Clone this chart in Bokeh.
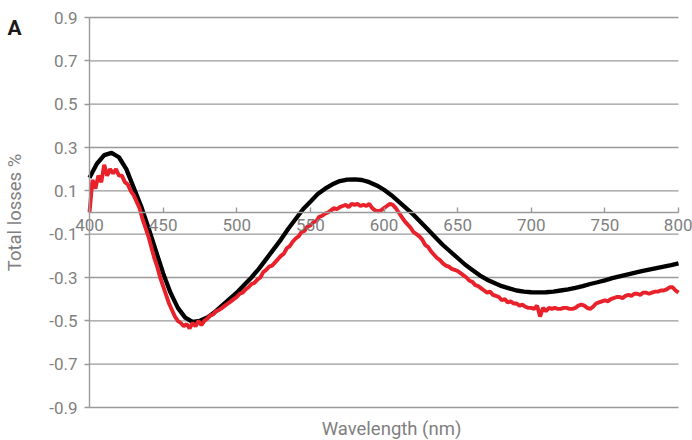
from bokeh.plotting import figure
from bokeh.models import FixedTicker, PrintfTickFormatter, Label, Range1d
from bokeh.embed import file_html
from bokeh.resources import INLINE

# ---- data ----
black_wl = list(range(400, 801, 5))
black_loss = [0.16, 0.225, 0.265, 0.275, 0.255, 0.20, 0.115, 0.03, -0.07, -0.175,
              -0.28, -0.37, -0.44, -0.485, -0.505, -0.50, -0.485, -0.46, -0.43, -0.40,
              -0.37, -0.335, -0.30, -0.26, -0.215, -0.17, -0.125, -0.075, -0.03, 0.015,
              0.05, 0.085, 0.11, 0.13, 0.145, 0.152, 0.153, 0.15, 0.14, 0.125,
              0.105, 0.08, 0.05, 0.02, -0.01, -0.045, -0.08, -0.115, -0.15, -0.18,
              -0.21, -0.24, -0.265, -0.29, -0.31, -0.325, -0.34, -0.35, -0.36, -0.365,
              -0.368, -0.369, -0.368, -0.365, -0.36, -0.355, -0.348, -0.34, -0.33, -0.322,
              -0.313, -0.303, -0.295, -0.287, -0.279, -0.271, -0.264, -0.257, -0.25, -0.243,
              -0.235]

red_wl = list(range(400, 801, 2))
red_loss = [0.00, 0.15, 0.11, 0.17, 0.14, 0.22, 0.17, 0.20, 0.18, 0.20,
            0.17, 0.17, 0.14, 0.13, 0.10, 0.08, 0.05, 0.02, -0.03, -0.07,
            -0.11, -0.16, -0.21, -0.25, -0.30, -0.34, -0.38, -0.42, -0.45, -0.48,
            -0.50, -0.51, -0.525, -0.515, -0.535, -0.51, -0.525, -0.50, -0.52, -0.50,
            -0.49, -0.475, -0.47, -0.455, -0.45, -0.44, -0.43, -0.42, -0.41, -0.40,
            -0.39, -0.375, -0.37, -0.355, -0.345, -0.33, -0.325, -0.31, -0.30, -0.275,
            -0.265, -0.25, -0.245, -0.23, -0.215, -0.20, -0.19, -0.165, -0.155, -0.135,
            -0.12, -0.11, -0.09, -0.085, -0.065, -0.06, -0.045, -0.04, -0.02, -0.015,
            -0.005, 0.00, 0.01, 0.02, 0.015, 0.025, 0.03, 0.035, 0.025, 0.04,
            0.035, 0.04, 0.03, 0.035, 0.03, 0.04, 0.02, 0.01, 0.005, 0.01,
            0.02, 0.03, 0.04, 0.035, 0.02, 0.00, -0.02, -0.04, -0.055, -0.07,
            -0.09, -0.10, -0.11, -0.125, -0.15, -0.16, -0.18, -0.195, -0.21, -0.22,
            -0.235, -0.245, -0.25, -0.26, -0.265, -0.27, -0.28, -0.29, -0.30, -0.315,
            -0.32, -0.335, -0.34, -0.35, -0.36, -0.37, -0.365, -0.38, -0.385, -0.39,
            -0.405, -0.40, -0.415, -0.41, -0.42, -0.42, -0.43, -0.425, -0.435, -0.44,
            -0.44, -0.445, -0.43, -0.48, -0.44, -0.455, -0.44, -0.445, -0.44, -0.445,
            -0.445, -0.44, -0.44, -0.445, -0.445, -0.44, -0.43, -0.425, -0.43, -0.44,
            -0.445, -0.435, -0.42, -0.415, -0.41, -0.405, -0.41, -0.40, -0.395, -0.39,
            -0.39, -0.395, -0.385, -0.38, -0.385, -0.375, -0.375, -0.38, -0.37, -0.37,
            -0.375, -0.37, -0.365, -0.365, -0.36, -0.36, -0.355, -0.345, -0.345, -0.36,
            -0.37]

x_ticks = [400, 450, 500, 550, 600, 650, 700, 750, 800]
y_ticks = [-0.9, -0.7, -0.5, -0.3, -0.1, 0.1, 0.3, 0.5, 0.7, 0.9]
x_title = "Wavelength (nm)"
y_title = "Total losses %"
panel_tag = "A"

FONT = "Roboto"
GRAY_TEXT = "#7f7f7f"
GRAY_LINE = "#9a9a9a"
TICK_FS = "17px"
TITLE_FS = "18.5px"

# ---- layout (pixels) ----
W, H = 692, 440
PX_LEFT, PX_RIGHT = 89, 678     # where x_ticks[0] / x_ticks[-1] sit
PX_TOP, PX_BOT = 17, 407        # where y_ticks[-1] / y_ticks[0] sit
xs = (PX_RIGHT - PX_LEFT) / (x_ticks[-1] - x_ticks[0])
ys = (PX_BOT - PX_TOP) / (y_ticks[-1] - y_ticks[0])
x_range = Range1d(x_ticks[0] - PX_LEFT / xs, x_ticks[-1] + (W - PX_RIGHT) / xs)
y_range = Range1d(y_ticks[0] - (H - PX_BOT) / ys, y_ticks[-1] + PX_TOP / ys)

p = figure(width=W, height=H, output_backend="svg", toolbar_location=None,
           x_range=x_range, y_range=y_range,
           min_border_left=0, min_border_right=0, min_border_top=0, min_border_bottom=0)
p.outline_line_color = None
p.background_fill_color = "white"
p.border_fill_color = "white"
p.xgrid.visible = False
p.ygrid.visible = False

# horizontal gridlines limited to the data span
p.segment(x0=x_ticks[0], x1=x_ticks[-1], y0=y_ticks, y1=y_ticks,
          line_color=GRAY_LINE, line_width=1.4)

# y axis at x = 400
p.yaxis.fixed_location = x_ticks[0]
p.yaxis.bounds = (y_ticks[0], y_ticks[-1])
p.yaxis.ticker = FixedTicker(ticks=y_ticks)
p.yaxis.formatter = PrintfTickFormatter(format="%.1f")
p.yaxis.major_tick_in = 0
p.yaxis.major_tick_out = 5
p.yaxis.minor_tick_line_color = None
p.yaxis.axis_line_color = GRAY_LINE
p.yaxis.axis_line_width = 1.4
p.yaxis.major_tick_line_color = GRAY_LINE
p.yaxis.major_tick_line_width = 1.4
p.yaxis.major_label_text_font = FONT
p.yaxis.major_label_text_font_size = TICK_FS
p.yaxis.major_label_text_color = GRAY_TEXT
p.yaxis.major_label_standoff = 7
p.yaxis.axis_label = y_title
p.yaxis.axis_label_text_font = FONT
p.yaxis.axis_label_text_font_size = TITLE_FS
p.yaxis.axis_label_text_font_style = "normal"
p.yaxis.axis_label_text_color = GRAY_TEXT
p.yaxis.axis_label_standoff = 20

# x axis at y = 0
p.xaxis.fixed_location = 0
p.xaxis.bounds = (x_ticks[0], x_ticks[-1])
p.xaxis.ticker = FixedTicker(ticks=x_ticks)
p.xaxis.major_tick_in = 5
p.xaxis.major_tick_out = 0
p.xaxis.minor_tick_line_color = None
p.xaxis.axis_line_color = GRAY_LINE
p.xaxis.axis_line_width = 1.4
p.xaxis.major_tick_line_color = GRAY_LINE
p.xaxis.major_tick_line_width = 1.4
p.xaxis.major_label_text_font = FONT
p.xaxis.major_label_text_font_size = TICK_FS
p.xaxis.major_label_text_color = GRAY_TEXT
p.xaxis.major_label_standoff = 6

p.line(black_wl, black_loss, line_color="black", line_width=4.3)
p.line(red_wl, red_loss, line_color="#e8212b", line_width=3.9)

# x-axis title, centred under the chart near the bottom edge
p.add_layout(Label(x=x_ticks[0] + (391 - PX_LEFT) / xs,
                   y=y_ticks[-1] - (428 - PX_TOP) / ys,
                   text=x_title, text_align="center", text_baseline="alphabetic",
                   text_font=FONT, text_font_size=TITLE_FS, text_color=GRAY_TEXT))
# panel tag
p.add_layout(Label(x=x_ticks[0] + (7 - PX_LEFT) / xs,
                   y=y_ticks[-1] - (27 - PX_TOP) / ys,
                   text=panel_tag, text_align="left", text_baseline="alphabetic",
                   text_font=FONT, text_font_size="21px", text_font_style="bold",
                   text_color="#1a1a1a"))

open("out.html", "w").write(file_html(p, INLINE))
